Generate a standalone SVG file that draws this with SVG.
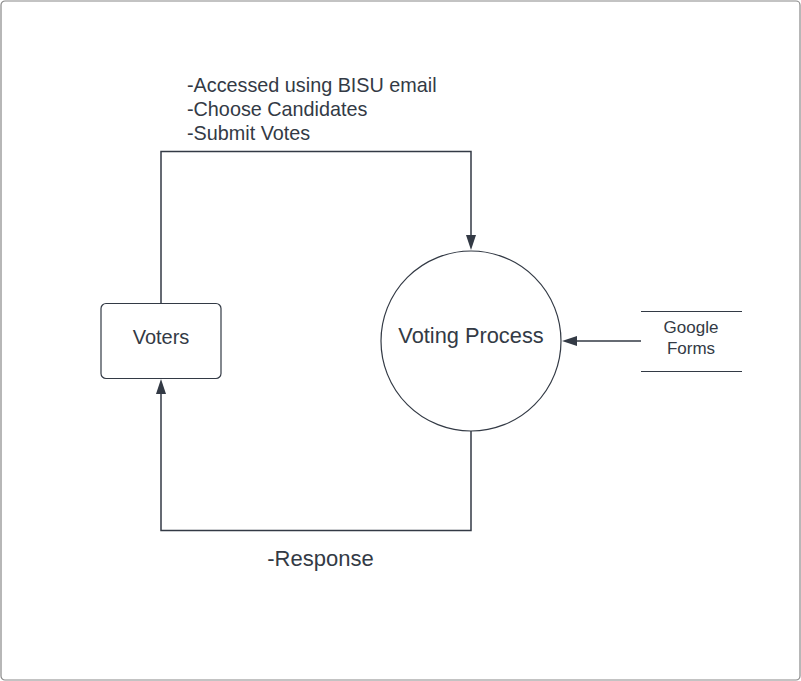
<svg xmlns="http://www.w3.org/2000/svg" width="801" height="681" viewBox="0 0 801 681">
<defs>
<style>
.t{font-family:"Liberation Sans",Arial,sans-serif;fill:#333a45}
.ln{fill:none;stroke:#333a45;stroke-width:1.5}
.ah{fill:#333a45}
</style>
</defs>
<rect x="1" y="1" width="799" height="679" rx="4" fill="#fff" stroke="#888" stroke-width="1.2"/>
<g id="connectors">
<path class="ln" d="M161,303 V151.5 H471 V236"/>
<path class="ah" d="M471,250 l-5,-15 h10 z"/>
<path class="ln" d="M471,431 V530.5 H161 V392"/>
<path class="ah" d="M161,379 l-5,15 h10 z"/>
<path class="ln" d="M641,341 H575"/>
<path class="ah" d="M562,341 l15,-5 v10 z"/>
<text class="t" x="187" y="92" font-size="19.8">-Accessed using BISU email</text>
<text class="t" x="187" y="116" font-size="19.8">-Choose Candidates</text>
<text class="t" x="187" y="140" font-size="19.8">-Submit Votes</text>
<text class="t" x="320.5" y="566" font-size="22" text-anchor="middle">-Response</text>
</g>
<g id="voters">
<rect x="101" y="303.5" width="120" height="75" rx="5" fill="#fff" stroke="#333a45" stroke-width="1.2"/>
<text class="t" x="161" y="344" font-size="20" text-anchor="middle">Voters</text>
</g>
<g id="voting-process">
<circle cx="471" cy="341" r="90" fill="#fff" stroke="#333a45" stroke-width="1.2"/>
<text class="t" x="471" y="343" font-size="21.8" text-anchor="middle">Voting Process</text>
</g>
<g id="google-forms">
<line x1="641" y1="311.5" x2="742" y2="311.5" stroke="#333a45" stroke-width="1.2"/>
<line x1="641" y1="371.5" x2="742" y2="371.5" stroke="#333a45" stroke-width="1.2"/>
<text class="t" x="691" y="333" font-size="17" text-anchor="middle">Google</text>
<text class="t" x="691" y="354" font-size="17" text-anchor="middle">Forms</text>
</g>
</svg>
